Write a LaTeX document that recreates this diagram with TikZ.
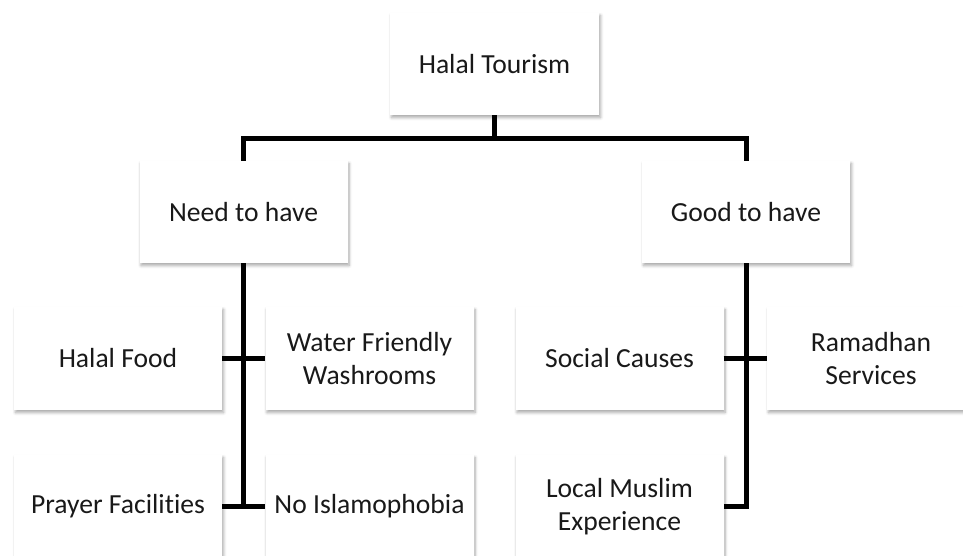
\documentclass[tikz,border=0pt]{standalone}
\usepackage{fontspec}
\setmainfont[Ligatures=NoCommon]{Carlito}
\usetikzlibrary{shadows.blur,calc}
\begin{document}
\begin{tikzpicture}[x=1pt,y=-1pt,
  box/.style={rectangle, fill=white, draw=none,
    minimum width=208pt, minimum height=102pt, inner sep=0pt,
    align=center, font=\fontsize{27.6}{33.5}\selectfont, text=black!90,
    blur shadow={shadow blur steps=6, shadow xshift=1.5pt, shadow yshift=-2.5pt,
      shadow blur radius=3pt, shadow opacity=35}},
  conn/.style={line width=5pt, black, line join=miter}]
\useasboundingbox (0,0) rectangle (963,555);
\clip (0,0) rectangle (963,555);
\node[box, minimum width=209pt] (top) at (494.5,64) {Halal Tourism};
\node[box] (need) at (243.5,212) {Need to have};
\node[box] (good) at (746,212) {Good to have};
\node[box, minimum height=103pt] (food) at (118,358.5) {Halal Food};
\node[box, minimum height=103pt] (water) at (369.5,358.5) {Water Friendly\\Washrooms};
\node[box, minimum height=103pt] (prayer) at (118,506.5) {Prayer Facilities};
\node[box, minimum height=103pt] (noislam) at (369.5,506.5) {No Islamophobia};
\node[box, minimum height=103pt] (social) at (619.5,358.5) {Social Causes};
\node[box, minimum height=103pt] (ramadhan) at (871,358.5) {Ramadhan\\Services};
\node[box, minimum height=103pt] (local) at (619.5,506.5) {Local Muslim\\Experience};
\coordinate (hub) at (494.5,138.5);
\coordinate (needend) at (243.5,507);
\draw[conn] (top.south) -- (hub);
\draw[conn] (need.north) |- (hub) -| (good.north);
\draw[conn] (need.south) -- (needend);
\draw[conn] (food.east) -- (water.west);
\draw[conn] (prayer.east) -- (noislam.west);
\draw[conn] (social.east) -- (ramadhan.west);
\draw[conn] (good.south) |- (local.east);
\end{tikzpicture}
\end{document}
